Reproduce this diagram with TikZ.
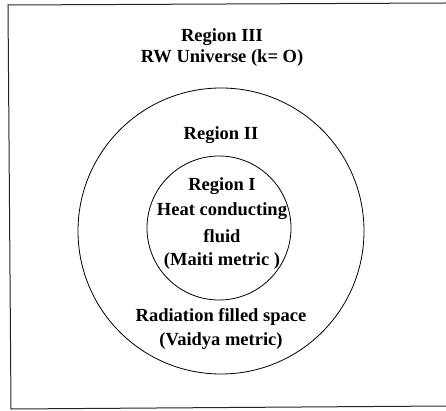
\documentclass[tikz,border=0pt]{standalone}
\usepackage{fontspec}
\setmainfont{Liberation Serif}
\usetikzlibrary{positioning}
\tikzstyle{region}  = [circle, black, draw, line width=0.8pt, inner sep=0pt, text centered]
\tikzstyle{caption} = [black, font=\bfseries\fontsize{18.5}{21}\selectfont, align=center, inner sep=0pt]

\begin{document}
\begin{tikzpicture}[x=1pt, y=1pt, node distance = 21pt, auto]
      \useasboundingbox (0,0) rectangle (446,-411);
      % frame, its right side is cut off
      \draw[line width=1pt, black!85] (446,-3) -- (8,-5) -- (11,-409) -- (446,-406);
      \node[region, minimum size=286pt] (outer) at (221,-231) {};
      \node[region, minimum size=144pt] (inner) at (219,-228) {};
      \node[caption] (r3) at (222,-37) {Region III};
      \node[caption, below of=r3] (rw) {RW Universe (k= O)};
      \node[caption] (r2) at (221,-135) {Region II};
      \node[caption] (r1) at (222,-186) {Region I};
      \node[caption, below of=r1, node distance=25pt] (heat) {Heat conducting};
      \node[caption, below of=heat, node distance=25pt] (fluid) {fluid};
      \node[caption, below of=fluid, node distance=25pt] (maiti) {(Maiti metric )};
      \node[caption] (rad) at (221,-317) {Radiation filled space};
      \node[caption, below of=rad, node distance=24pt] (vaidya) {(Vaidya metric)};
    \end{tikzpicture}
\end{document}
